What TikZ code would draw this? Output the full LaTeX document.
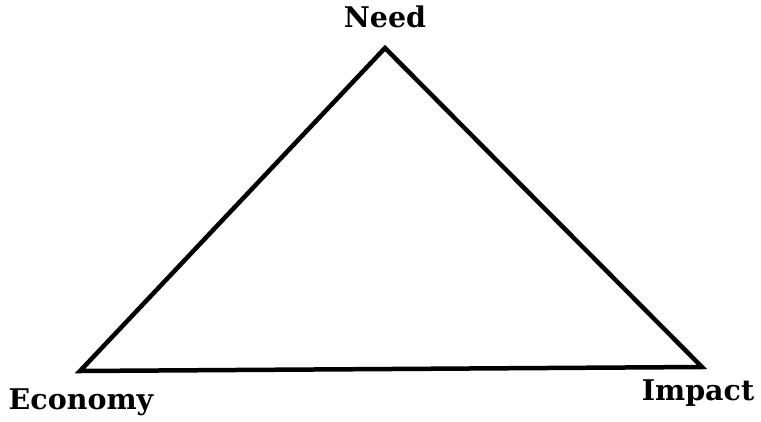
\documentclass[tikz,border=0pt]{standalone}
\usepackage{fontspec}
\setmainfont{DejaVu Serif}
\begin{document}
\begin{tikzpicture}[x=1pt,y=-1pt,
  lbl/.style={font=\bfseries\fontsize{28.5}{32}\selectfont, inner sep=0pt, anchor=base},
  edge/.style={line width=4.5pt, line join=miter}]
\useasboundingbox (0,0) rectangle (761,421);
\coordinate (N) at (385,48);
\coordinate (E) at (80,371);
\coordinate (I) at (702,367);
\draw[edge] (N) -- (E) -- (I) -- cycle;
\node[lbl] (need) at (385,27) {Need};
\node[lbl] (econ) at (81,409) {Economy};
\node[lbl] (imp) at (698,400) {Impact};
\end{tikzpicture}
\end{document}
